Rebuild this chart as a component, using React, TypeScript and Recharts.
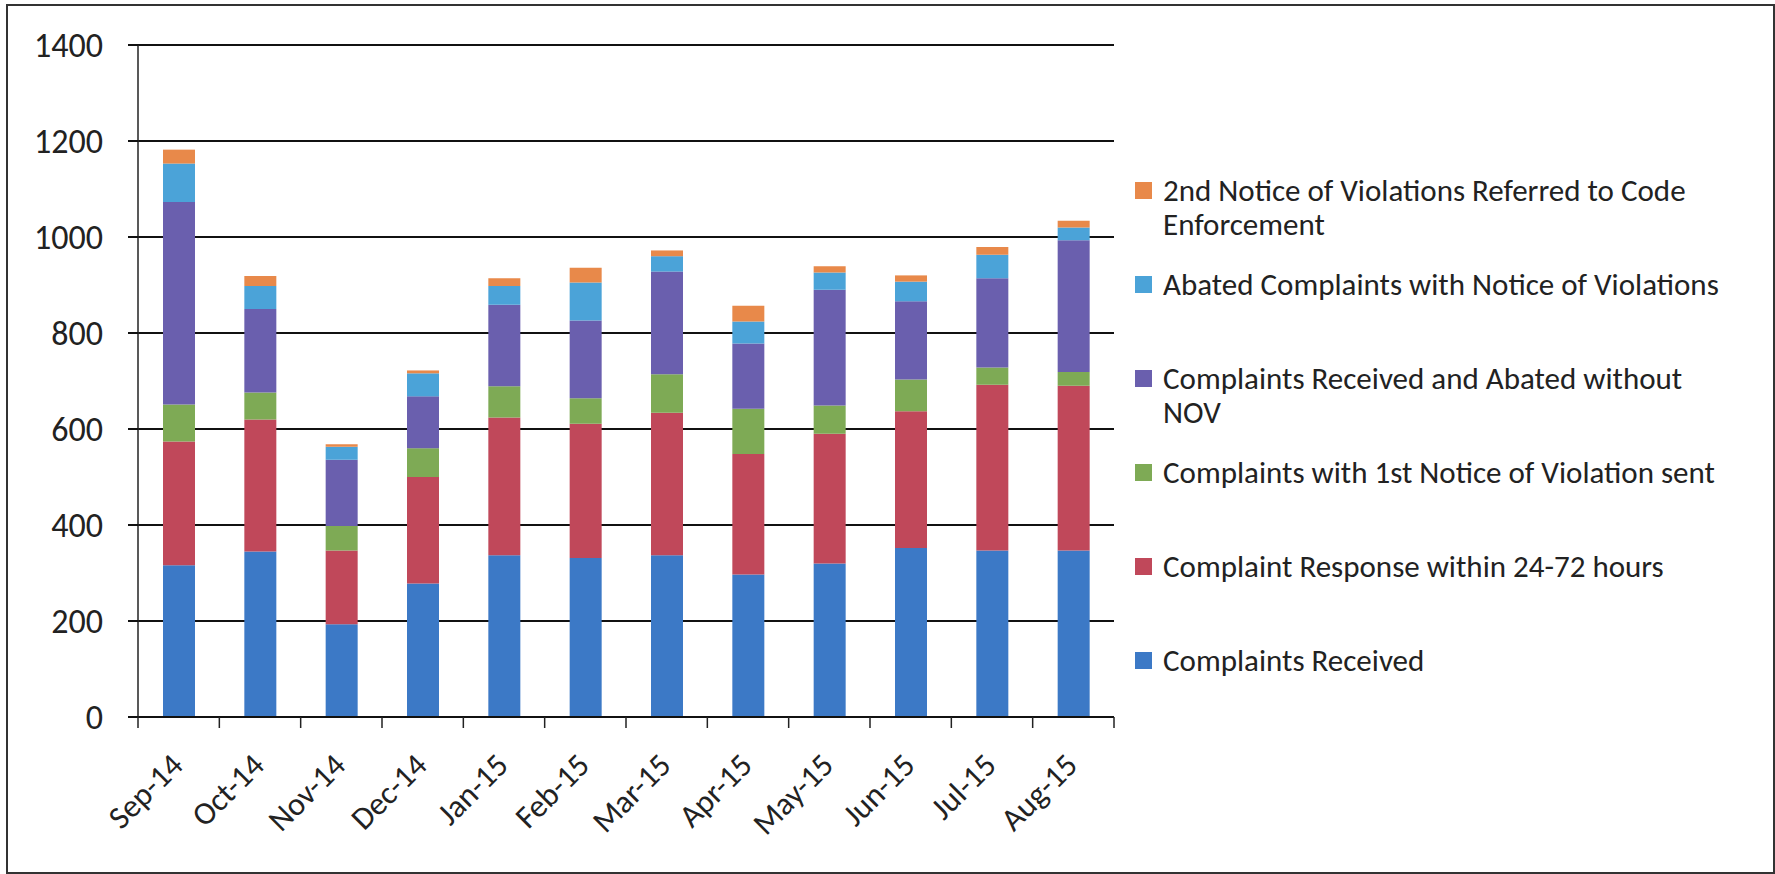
import { Bar, BarChart, CartesianGrid, Legend, XAxis, YAxis } from 'recharts';

const months = ['Sep-14', 'Oct-14', 'Nov-14', 'Dec-14', 'Jan-15', 'Feb-15', 'Mar-15', 'Apr-15', 'May-15', 'Jun-15', 'Jul-15', 'Aug-15'];
const complaintsReceived = [316, 345, 193, 278, 337, 331, 337, 297, 320, 352, 347, 347];
const responseWithin72h = [258, 275, 154, 222, 287, 280, 297, 251, 270, 285, 345, 343];
const firstNoticeSent = [77, 56, 51, 60, 65, 53, 80, 94, 59, 66, 36, 29];
const abatedWithoutNov = [422, 174, 138, 108, 170, 162, 214, 136, 241, 163, 186, 274];
const abatedWithNov = [80, 48, 27, 48, 39, 79, 32, 46, 36, 41, 49, 27];
const secondNoticeReferred = [29, 21, 5, 6, 16, 31, 12, 33, 13, 13, 16, 14];
const yTicks = [0, 200, 400, 600, 800, 1000, 1200, 1400];

const series = [
  { key: 'received', name: 'Complaints Received', values: complaintsReceived, color: '#3C79C6' },
  { key: 'response', name: 'Complaint Response within 24-72 hours', values: responseWithin72h, color: '#C0485A' },
  { key: 'first', name: 'Complaints with 1st Notice of Violation sent', values: firstNoticeSent, color: '#7EAA55' },
  { key: 'noNov', name: 'Complaints Received and Abated without\nNOV', values: abatedWithoutNov, color: '#6A5FAE' },
  { key: 'withNov', name: 'Abated Complaints with Notice of Violations', values: abatedWithNov, color: '#4BA3D8' },
  { key: 'second', name: '2nd Notice of Violations Referred to Code\nEnforcement', values: secondNoticeReferred, color: '#E8894A' },
];

const data = months.map((month, i) => {
  const row: Record<string, string | number> = { month };
  series.forEach((s) => (row[s.key] = s.values[i]));
  return row;
});

const FONT = 'Carlito, Calibri, Lato, sans-serif';
const PLOT_LEFT = 138;
const PLOT_RIGHT = 1114;
const STEP = (PLOT_RIGHT - PLOT_LEFT) / months.length;

function MonthTick({ x, y, payload, index }: any) {
  const ax = x + 6;
  const ay = y + 50;
  return (
    <g>
      <line x1={x - STEP / 2} x2={x - STEP / 2} y1={y} y2={y + 11} stroke="#222" strokeWidth={1.5} />
      {index === months.length - 1 && (
        <line x1={x + STEP / 2} x2={x + STEP / 2} y1={y} y2={y + 11} stroke="#222" strokeWidth={1.5} />
      )}
      <text x={ax} y={ay} textAnchor="end" transform={`rotate(-45, ${ax}, ${ay})`} fontSize={32} fill="#222" fontFamily={FONT}>
        {payload.value}
      </text>
    </g>
  );
}

// legend drawn top-down in reverse series order, like the stacked bars
function SideLegend() {
  const items = [...series].reverse();
  return (
    <div style={{ fontFamily: FONT, fontSize: 31, color: '#222' }}>
      {items.map((item) => (
        <div key={item.key} style={{ display: 'flex', alignItems: 'flex-start', height: 94 }}>
          <div style={{ width: 17, height: 17, background: item.color, marginTop: 9, marginRight: 11, flex: 'none' }} />
          <div style={{ lineHeight: '34px', whiteSpace: 'pre' }}>{item.name}</div>
        </div>
      ))}
    </div>
  );
}

export default function App() {
  return (
    <div style={{ position: 'absolute', left: 0, top: 0, width: 1775, height: 874, background: '#fff' }}>
      <div style={{ position: 'absolute', left: 6, top: 4, width: 1765, height: 866, border: '2px solid #333' }} />
      <BarChart
        width={1775}
        height={874}
        data={data}
        margin={{ top: 45, right: 1775 - PLOT_RIGHT, bottom: 0, left: 8 }}
        barSize={32}
      >
        <CartesianGrid horizontal vertical={false} stroke="#111" strokeWidth={2} />
        <XAxis
          dataKey="month"
          height={157}
          tick={<MonthTick />}
          tickLine={false}
          tickSize={0}
          tickMargin={0}
          interval={0}
          axisLine={{ stroke: '#111', strokeWidth: 2 }}
        />
        <YAxis
          width={130}
          domain={[0, 1400]}
          ticks={yTicks}
          tickSize={10}
          tickMargin={25}
          tick={{ fontSize: 34, fill: '#222', fontFamily: FONT }}
          tickLine={{ stroke: '#111', strokeWidth: 2 }}
          axisLine={{ stroke: '#222', strokeWidth: 1.5 }}
        />
        <Legend
          layout="vertical"
          align="center"
          verticalAlign="middle"
          content={<SideLegend />}
          wrapperStyle={{ left: 1135, top: 173, width: 630 }}
        />
        {series.map((s) => (
          <Bar key={s.key} dataKey={s.key} name={s.name} stackId="a" fill={s.color} isAnimationActive={false} />
        ))}
      </BarChart>
    </div>
  );
}
